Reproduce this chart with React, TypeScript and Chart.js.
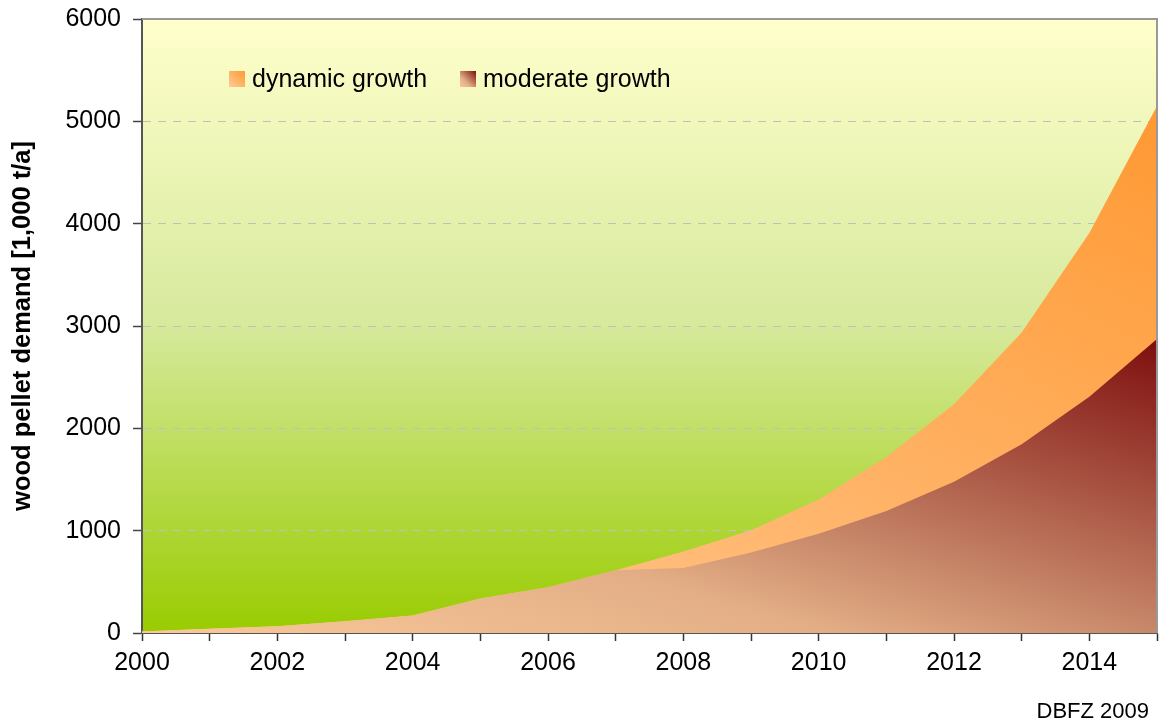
import React, { useEffect, useRef } from "react";
import { Chart, registerables } from "chart.js";

Chart.register(...registerables);

const YEARS = [2000, 2001, 2002, 2003, 2004, 2005, 2006, 2007, 2008, 2009, 2010, 2011, 2012, 2013, 2014, 2015];
const DYNAMIC = [15, 42, 65, 115, 172, 336, 448, 612, 797, 1004, 1304, 1721, 2236, 2937, 3910, 5150];
const MODERATE = [15, 42, 65, 115, 172, 336, 448, 612, 636, 786, 971, 1193, 1477, 1845, 2308, 2872];
const X_TICK_LABELS = ["2000", "2002", "2004", "2006", "2008", "2010", "2012", "2014"];
const SERIES_NAMES = ["dynamic growth", "moderate growth"];
const Y_TITLE = "wood pellet demand [1,000 t/a]";
const SOURCE = "DBFZ 2009";

const FONT = "'Liberation Sans', Arial, sans-serif";

const DYN_STOPS: [number, string][] = [
  [0, "#FFCC99"],
  [1, "#FF9933"],
];
const MOD_STOPS: [number, string][] = [
  [0, "#F9C999"],
  [0.34, "#E3AE86"],
  [0.5, "#C8886A"],
  [1, "#7E0E0E"],
];

function boxGradient(ctx: CanvasRenderingContext2D, area: any, topY: number, stops: [number, string][]) {
  const x0 = area.left;
  const y0 = area.bottom;
  const W = area.right - area.left;
  const H = Math.max(1, area.bottom - topY);
  const s = 1 / (W * W) + 1 / (H * H);
  const k = 2 / s;
  const g = ctx.createLinearGradient(x0, y0, x0 + k / W, y0 - k / H);
  stops.forEach(([o, c]) => g.addColorStop(o, c));
  return g;
}

function swatchGradient(ctx: CanvasRenderingContext2D, x: number, y: number, s: number, stops: [number, string][]) {
  const g = ctx.createLinearGradient(x, y + s, x + s, y);
  stops.forEach(([o, c]) => g.addColorStop(o, c));
  return g;
}

const bgPlugin = {
  id: "plotBg",
  beforeDraw(chart: any) {
    const { ctx, chartArea: a } = chart;
    if (!a) return;
    const g = ctx.createLinearGradient(0, a.top, 0, a.bottom);
    g.addColorStop(0, "#FFFFCC");
    g.addColorStop(0.5, "#D6E99C");
    g.addColorStop(1, "#99CC00");
    ctx.save();
    ctx.fillStyle = g;
    ctx.fillRect(a.left, a.top, a.right - a.left, a.bottom - a.top);
    ctx.restore();
  },
  afterDatasetsDraw(chart: any) {
    const { ctx, chartArea: a } = chart;
    ctx.save();
    ctx.strokeStyle = "#999999";
    ctx.lineWidth = 2;
    ctx.beginPath();
    ctx.moveTo(a.left, a.top);
    ctx.lineTo(a.right, a.top);
    ctx.lineTo(a.right, a.bottom);
    ctx.stroke();
    ctx.restore();
  },
  afterDraw(chart: any) {
    const { ctx } = chart;
    ctx.save();
    ctx.font = `25px ${FONT}`;
    ctx.textBaseline = "middle";
    ctx.fillStyle = "#000";
    const sw = 16;
    const items = [
      { x: 229, stops: DYN_STOPS, label: SERIES_NAMES[0] },
      { x: 460, stops: MOD_STOPS, label: SERIES_NAMES[1] },
    ];
    items.forEach((it) => {
      ctx.fillStyle = swatchGradient(ctx, it.x, 71, sw, it.stops);
      ctx.fillRect(it.x, 71, sw, sw);
      ctx.fillStyle = "#000";
      ctx.textAlign = "left";
      ctx.fillText(it.label, it.x + 23, 80);
    });
    ctx.font = `22px ${FONT}`;
    ctx.textAlign = "right";
    ctx.fillText(SOURCE, 1149, 712);
    ctx.restore();
  },
};

export default function App() {
  const ref = useRef<HTMLCanvasElement | null>(null);

  useEffect(() => {
    if (!ref.current) return;
    const maxDyn = Math.max(...DYNAMIC);
    const maxMod = Math.max(...MODERATE);
    const chart = new Chart(ref.current, {
      type: "line",
      data: {
        datasets: [
          {
            label: SERIES_NAMES[1],
            data: YEARS.map((y, i) => ({ x: y, y: MODERATE[i] })),
            fill: "origin",
            borderWidth: 0,
            pointRadius: 0,
            tension: 0,
            backgroundColor: (c: any) => {
              const ch = c.chart;
              if (!ch.chartArea) return "transparent";
              return boxGradient(ch.ctx, ch.chartArea, ch.scales.y.getPixelForValue(maxMod), MOD_STOPS);
            },
          },
          {
            label: SERIES_NAMES[0],
            data: YEARS.map((y, i) => ({ x: y, y: DYNAMIC[i] })),
            fill: "origin",
            borderWidth: 0,
            pointRadius: 0,
            tension: 0,
            backgroundColor: (c: any) => {
              const ch = c.chart;
              if (!ch.chartArea) return "transparent";
              return boxGradient(ch.ctx, ch.chartArea, ch.scales.y.getPixelForValue(maxDyn), DYN_STOPS);
            },
          },
        ],
      },
      options: {
        animation: false,
        responsive: false,
        maintainAspectRatio: false,
        devicePixelRatio: 1,
        layout: { padding: { top: 19, right: 3, left: 0, bottom: 0 } },
        plugins: { legend: { display: false }, tooltip: { enabled: false } },
        scales: {
          x: {
            type: "linear",
            min: 2000,
            max: 2015,
            afterFit: (s: any) => {
              s.height = 91;
              s.paddingLeft = 0;
              s.paddingRight = 0;
            },
            ticks: {
              stepSize: 1,
              autoSkip: false,
              maxRotation: 0,
              padding: 7,
              color: "#000",
              font: { family: FONT, size: 25 },
              callback: (v: any) => (X_TICK_LABELS.includes(String(v)) ? String(v) : ""),
            },
            grid: {
              drawOnChartArea: false,
              drawTicks: true,
              tickLength: 8,
              tickColor: "#333",
              tickWidth: 1.5,
            },
            border: { display: true, color: "#555", width: 2 },
          },
          y: {
            type: "linear",
            min: 0,
            max: 6000,
            afterFit: (s: any) => {
              s.width = 142;
              s.paddingTop = 0;
              s.paddingBottom = 0;
            },
            ticks: {
              stepSize: 1000,
              padding: 12,
              color: "#000",
              font: { family: FONT, size: 25 },
              callback: (v: any) => String(v),
            },
            title: {
              display: true,
              text: Y_TITLE,
              color: "#000",
              font: { family: FONT, size: 25.5, weight: "bold" },
              padding: { top: 8, bottom: 0 },
            },
            grid: {
              drawOnChartArea: true,
              drawTicks: true,
              tickLength: 9,
              tickColor: "#444",
              tickWidth: 1.5,
              tickBorderDash: [],
              lineWidth: 1,
              color: (c: any) =>
                c.tick && (c.tick.value === 0 || c.tick.value === 6000) ? "rgba(0,0,0,0)" : "#C0C0C0",
            },
            border: { display: true, color: "#555", width: 2, dash: [8, 7] },
          },
        },
      },
      plugins: [bgPlugin],
    } as any);
    return () => chart.destroy();
  }, []);

  return (
    <div style={{ position: "fixed", left: 0, top: 0, width: 1160, height: 724, background: "#fff" }}>
      <canvas ref={ref} width={1160} height={724} style={{ width: 1160, height: 724, display: "block" }} />
    </div>
  );
}
